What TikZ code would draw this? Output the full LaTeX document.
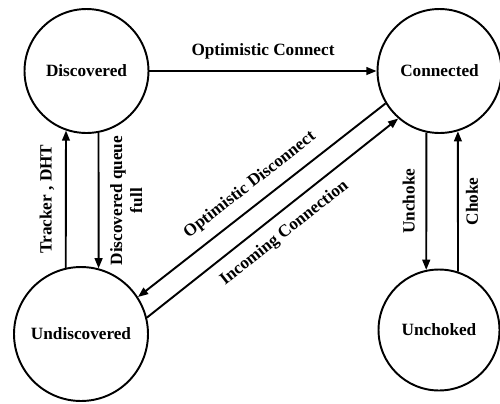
\documentclass[tikz,border=0pt]{standalone}
\usepackage{fontspec}
\setmainfont{Liberation Serif}
\usetikzlibrary{arrows.meta}

\begin{document}
\begin{tikzpicture}[x=0.02cm,y=-0.02cm,>={Triangle[length=5.8pt,width=4.4pt]},
  state/.style={circle,draw,line width=1.1pt,inner sep=0pt,font=\fontsize{9.8}{11.5}\selectfont\bfseries},
  trans/.style={->,line width=1.1pt},
  lab/.style={font=\fontsize{9.8}{11.5}\selectfont\bfseries,inner sep=6pt}]
\useasboundingbox (0,0) rectangle (500,403);
\node[state,minimum size=2.48cm] (disc) at (86.5,71) {Discovered};
\node[state,minimum size=2.48cm] (conn) at (439.5,71) {Connected};
\node[state,minimum size=2.68cm] (undisc) at (81,334) {Undiscovered};
\node[state,minimum size=2.42cm] (unch) at (439,330) {Unchoked};
\draw[trans] (disc.east) -- node[above,lab]{Optimistic Connect} (conn.west);
\draw[trans] (undisc.103) -- node[lab,rotate=90,anchor=south]{Tracker , DHT} (disc.251);
\draw[trans] (disc.281) -- node[lab,rotate=90,anchor=north,align=center]{Discovered queue\\full} (undisc.75);
\draw[trans] (conn.211) -- node[lab,sloped,above]{Optimistic Disconnect} (undisc.33);
\draw[trans] (undisc.14) -- node[lab,sloped,below]{Incoming Connection} (conn.229);
\draw[trans] (conn.258) -- node[lab,rotate=90,anchor=south]{Unchoke} (unch.102);
\draw[trans] (unch.72) -- node[lab,rotate=90,anchor=north,inner sep=4pt]{Choke} (conn.287);
\end{tikzpicture}
\end{document}
